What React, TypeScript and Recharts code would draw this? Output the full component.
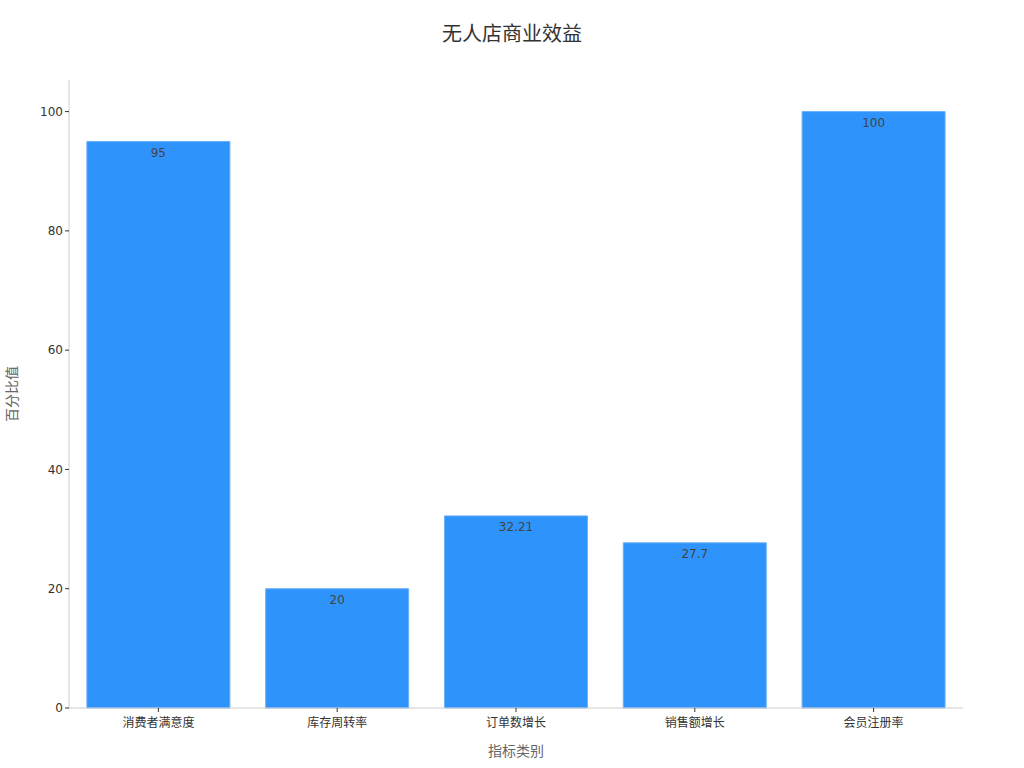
import { BarChart, Bar, XAxis, YAxis, LabelList, Label } from "recharts";

const categories = ["消费者满意度", "库存周转率", "订单数增长", "销售额增长", "会员注册率"];
const values = [95, 20, 32.21, 27.7, 100];
const yTicks = [0, 20, 40, 60, 80, 100];

const data = categories.map((name, i) => ({ name, value: values[i] }));

const font = "'DejaVu Sans', 'Noto Sans CJK SC', sans-serif";

export default function App() {
  return (
    <div style={{ position: "absolute", left: 0, top: 0, width: 1024, height: 768, background: "#fff", fontFamily: font }}>
      <div
        style={{
          position: "absolute",
          top: 18,
          width: 1024,
          textAlign: "center",
          fontSize: 20,
          color: "#333",
        }}
      >
        无人店商业效益
      </div>
      <BarChart
        width={1024}
        height={768}
        data={data}
        margin={{ top: 80, right: 61, left: 19, bottom: 30 }}
        barCategoryGap="10%"
      >
        <XAxis
          dataKey="name"
          height={30}
          tick={{ fill: "#333", fontSize: 12, fontFamily: font, dy: 4 }}
          tickLine={{ stroke: "#333" }}
          axisLine={{ stroke: "#ccc" }}
          tickSize={4}
        >
          <Label value="指标类别" position="insideBottom" offset={-18} style={{ fill: "#666", fontSize: 14, fontFamily: font }} />
        </XAxis>
        <YAxis
          width={50}
          domain={[0, 105.3]}
          ticks={yTicks}
          tick={{ fill: "#333", fontSize: 12, fontFamily: font }}
          tickLine={{ stroke: "#333" }}
          axisLine={{ stroke: "#ccc" }}
          tickSize={4}
        >
          <Label value="百分比值" angle={-90} position="insideLeft" offset={-7} style={{ fill: "#666", fontSize: 14, fontFamily: font, textAnchor: "middle" }} />
        </YAxis>
        <Bar dataKey="value" fill="#2E93FA" stroke="#6BB1F7" strokeWidth={1} isAnimationActive={false}>
          <LabelList dataKey="value" position="insideTop" offset={7} style={{ fill: "#444", fontSize: 12, fontFamily: font }} />
        </Bar>
      </BarChart>
    </div>
  );
}
